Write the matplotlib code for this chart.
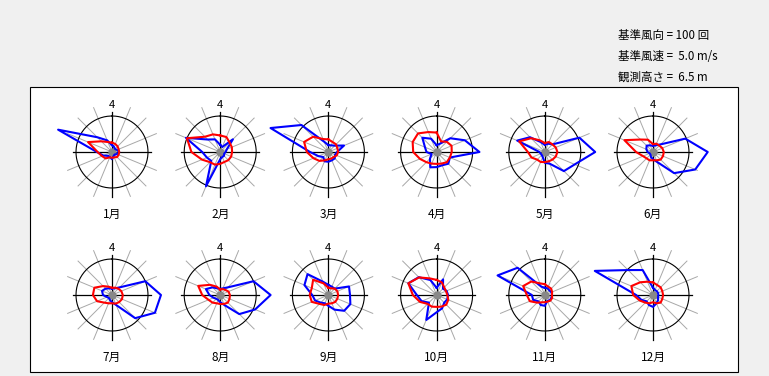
import numpy as np
import matplotlib.pyplot as plt
from matplotlib.patches import Rectangle

plt.rcParams['font.family'] = ['Noto Sans CJK JP', 'DejaVu Sans']

# 16 directions, N clockwise
directions = ['N', 'NNE', 'NE', 'ENE', 'E', 'ESE', 'SE', 'SSE',
              'S', 'SSW', 'SW', 'WSW', 'W', 'WNW', 'NW', 'NNW']
months = ['1月', '2月', '3月', '4月', '5月', '6月',
          '7月', '8月', '9月', '10月', '11月', '12月']

ref_count = 100   # 基準風向 (回)
ref_speed = 5.0   # 基準風速 (m/s)

# wind direction frequency (counts)
freq_01 = [19, 15, 12, 15, 20, 15, 10, 12, 20, 15, 15, 26, 42, 162, 58, 35]
freq_02 = [20, 15, 50, 20, 15, 12, 15, 15, 20, 103, 35, 40, 50, 103, 49, 38]
freq_03 = [19, 20, 25, 47, 24, 20, 25, 25, 27, 28, 20, 30, 51, 174, 106, 31]
freq_04 = [19, 25, 54, 85, 119, 40, 46, 40, 42, 46, 26, 15, 28, 35, 56, 40]
freq_05 = [20, 25, 30, 104, 140, 90, 75, 35, 30, 15, 12, 12, 15, 83, 58, 30]
freq_06 = [17, 20, 30, 97, 152, 127, 83, 30, 20, 15, 10, 10, 15, 20, 25, 20]
freq_07 = [18, 20, 30, 100, 136, 129, 91, 30, 20, 15, 12, 15, 25, 30, 25, 20]
freq_08 = [17, 20, 30, 100, 140, 105, 75, 30, 20, 15, 15, 20, 30, 43, 30, 20]
freq_09 = [28, 25, 25, 62, 60, 66, 62, 44, 30, 25, 30, 40, 45, 72, 82, 40]
freq_10 = [20, 47, 25, 30, 32, 32, 30, 40, 48, 75, 30, 45, 55, 85, 70, 45]
freq_11 = [20, 20, 18, 20, 20, 20, 20, 18, 30, 30, 25, 35, 36, 142, 107, 25]
freq_12 = [20, 15, 15, 15, 15, 15, 20, 25, 33, 30, 25, 35, 47, 175, 98, 75]

# mean wind speed (m/s)
speed_01 = [1.3, 1.2, 1.1, 1.0, 1.0, 1.0, 1.0, 0.8, 0.8, 0.8, 1.25, 1.5, 2.0, 3.6, 2.1, 1.5]
speed_02 = [2.3, 2.25, 1.85, 1.75, 1.65, 1.65, 1.6, 1.5, 1.65, 1.9, 2.0, 2.75, 4.0, 5.0, 3.0, 2.65]
speed_03 = [1.75, 1.5, 1.5, 1.35, 1.35, 1.25, 1.0, 1.0, 1.0, 1.25, 1.75, 2.25, 3.0, 3.65, 3.0, 1.95]
speed_04 = [2.7, 1.6, 2.0, 2.25, 2.1, 2.0, 2.0, 1.75, 1.65, 1.75, 2.0, 2.5, 3.25, 3.6, 3.65, 3.0]
speed_05 = [1.25, 1.5, 1.5, 1.65, 1.75, 1.65, 1.5, 1.4, 1.4, 1.5, 1.5, 2.0, 2.35, 3.85, 2.7, 1.75]
speed_06 = [1.1, 1.25, 1.25, 1.4, 1.5, 1.5, 1.5, 1.25, 1.15, 1.25, 1.25, 1.5, 2.35, 4.3, 2.45, 1.85]
speed_07 = [1.0, 1.1, 1.25, 1.4, 1.5, 1.5, 1.4, 1.3, 1.15, 1.25, 1.5, 2.25, 2.65, 2.65, 1.75, 1.25]
speed_08 = [0.75, 0.9, 1.0, 1.25, 1.35, 1.4, 1.5, 1.35, 1.25, 1.25, 1.5, 1.75, 2.5, 3.3, 2.0, 1.25]
speed_09 = [1.0, 1.0, 1.25, 1.35, 1.35, 1.35, 1.35, 1.25, 1.2, 1.5, 1.75, 2.5, 2.6, 2.5, 3.0, 1.75]
speed_10 = [2.1, 1.9, 1.5, 1.4, 1.5, 1.75, 1.9, 1.75, 1.65, 1.75, 1.75, 2.5, 3.3, 4.25, 3.45, 2.5]
speed_11 = [1.5, 1.25, 1.25, 1.1, 1.0, 1.1, 1.1, 1.0, 1.0, 1.1, 1.5, 2.25, 2.5, 3.25, 2.65, 1.75]
speed_12 = [1.75, 1.5, 1.5, 1.4, 1.4, 1.4, 1.5, 1.25, 1.0, 1.25, 1.5, 2.0, 2.75, 3.25, 2.5, 2.0]

freqs = [freq_01, freq_02, freq_03, freq_04, freq_05, freq_06,
         freq_07, freq_08, freq_09, freq_10, freq_11, freq_12]
speeds = [speed_01, speed_02, speed_03, speed_04, speed_05, speed_06,
          speed_07, speed_08, speed_09, speed_10, speed_11, speed_12]

W, H = 769, 376
fig = plt.figure(figsize=(W / 100, H / 100), dpi=100, facecolor='#f0f0f0')

# white frame (behind the roses)
fig.patches.append(Rectangle((30 / W, 1 - 372 / H), 708 / W, 285 / H,
                             transform=fig.transFigure, facecolor='white',
                             edgecolor='black', lw=0.8, zorder=-1))

info = ['基準風向 = 100 回', '基準風速 =  5.0 m/s', '観測高さ =  6.5 m']
for k, s in enumerate(info):
    fig.text(618 / W, 1 - (35 + 21 * k) / H, s, fontsize=8.3,
             ha='left', va='center')

r_px = 36.0     # pixel radius of reference circle
R_px = 48.0     # axes half size
rmax = R_px / r_px
theta = np.deg2rad(np.arange(16) * 22.5)

for i in range(12):
    col, row = i % 6, i // 6
    cx = 112 + col * 108.2
    cy = 152 + row * 143
    ax = fig.add_axes([(cx - R_px) / W, 1 - (cy + R_px) / H,
                       2 * R_px / W, 2 * R_px / H], projection='polar')
    ax.set_theta_zero_location('N')
    ax.set_theta_direction(-1)
    ax.set_ylim(0, rmax)
    ax.axis('off')
    ax.patch.set_alpha(0)

    # spokes
    for k in range(16):
        if k % 4 == 0:
            continue
        ax.plot([theta[k], theta[k]], [0, rmax], color='#a8a8a8', lw=0.7,
                clip_on=False, zorder=1)
    # cross
    for ang, ln in [(0, 1.1), (90, 1.08), (180, 1.25), (270, 1.08)]:
        a = np.deg2rad(ang)
        ax.plot([a, a], [0, ln], color='black', lw=0.9, clip_on=False, zorder=2)
    # reference circle
    tc = np.linspace(0, 2 * np.pi, 200)
    ax.plot(tc, np.ones_like(tc), color='black', lw=0.8, zorder=2)
    ax.plot([0], [0], 'o', color='#888888', ms=5, zorder=3)

    f = np.array(freqs[i]) / ref_count
    v = np.array(speeds[i]) / ref_speed
    tt = np.append(theta, theta[0])
    ax.plot(tt, np.append(f, f[0]), color='#0000ff', lw=1.5,
            clip_on=False, zorder=4)
    ax.plot(tt, np.append(v, v[0]), color='#ff0000', lw=1.5,
            clip_on=False, zorder=5)

    fig.text(cx / W, 1 - (cy - 47) / H, '4', fontsize=8, ha='center', va='center')
    fig.text(cx / W, 1 - (cy + 62) / H, months[i], fontsize=8.5,
             ha='center', va='center')

fig.savefig('out.png', dpi=100, facecolor=fig.get_facecolor())
